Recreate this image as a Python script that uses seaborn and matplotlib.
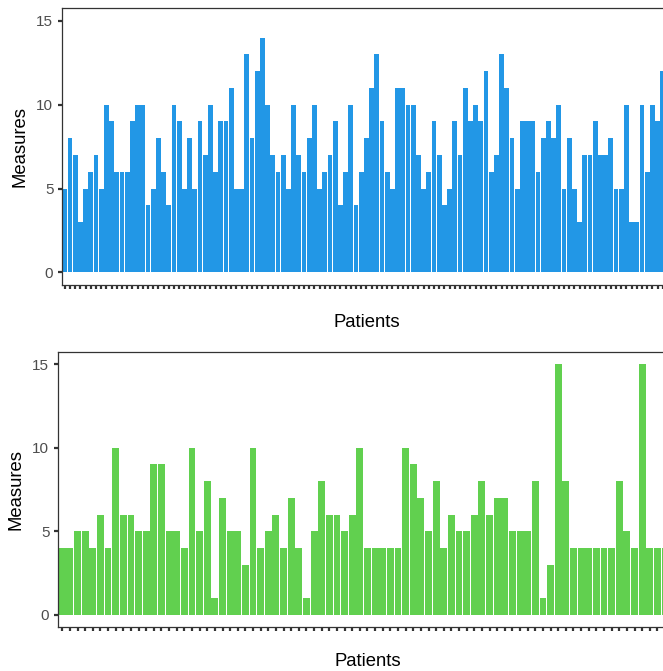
import matplotlib
matplotlib.use("Agg")
import matplotlib.pyplot as plt
import seaborn as sns
import pandas as pd

# Measures per patient, first cohort
measures_a = [5, 8, 7, 3, 5, 6, 7, 5, 10, 9, 6, 6, 6, 9, 10, 10, 4, 5, 8, 6,
              4, 10, 9, 5, 8, 5, 9, 7, 10, 6, 9, 9, 11, 5, 5, 13, 8, 12, 14, 10,
              7, 6, 7, 5, 10, 7, 6, 8, 10, 5, 6, 7, 9, 4, 6, 10, 4, 6, 8, 11,
              13, 9, 6, 5, 11, 11, 10, 10, 7, 5, 6, 9, 7, 4, 5, 9, 7, 11, 9, 10,
              9, 12, 6, 7, 13, 11, 8, 5, 9, 9, 9, 6, 8, 9, 8, 10, 5, 8, 5, 3,
              7, 7, 9, 7, 7, 8, 5, 5, 10, 3, 3, 10, 6, 10, 9, 12]

# Measures per patient, second cohort
measures_b = [4, 4, 5, 5, 4, 6, 4, 10, 6, 6, 5, 5, 9, 9, 5, 5, 4, 10, 5, 8,
              1, 7, 5, 5, 3, 10, 4, 5, 6, 4, 7, 4, 1, 5, 8, 6, 6, 5, 6, 10,
              4, 4, 4, 4, 4, 10, 9, 7, 5, 8, 4, 6, 5, 5, 6, 8, 6, 7, 7, 5,
              5, 5, 8, 1, 3, 15, 8, 4, 4, 4, 4, 4, 4, 8, 5, 4, 15, 4, 4, 4]

y_ticks = [0, 5, 10, 15]

BLUE = "#2297E6"
GREEN = "#61D04F"

sns.set_style("ticks")
plt.rcParams["font.family"] = ["Liberation Sans", "DejaVu Sans"]

fig = plt.figure(figsize=(6.63, 6.71), dpi=100)

W, H = 663.0, 671.0


def panel(left_px, top_px, unit_px, last_slot, bottom_px):
    x0 = left_px / W
    width = (last_slot + 1.2) * unit_px / W
    y0 = (H - bottom_px) / H
    height = (bottom_px - top_px) / H
    return fig.add_axes([x0, y0, width, height])


ax1 = panel(61.7, 8.3, 5.2, 116, 285.0)
ax2 = panel(57.7, 351.7, 7.63, 80, 627.3)

specs = [
    (ax1, measures_a, BLUE, 0.95, 116, 18),
    (ax2, measures_b, GREEN, 0.9, 80, 15),
]

for ax, vals, col, bw, last, xpad in specs:
    df = pd.DataFrame({"Patients": list(range(len(vals))), "Measures": vals})
    sns.barplot(data=df, x="Patients", y="Measures", color=col,
                saturation=1, width=bw, linewidth=0, ax=ax)
    ax.set_xlim(-0.6, last + 0.6)
    ax.set_ylim(-0.75, 15.75)
    ax.set_yticks(y_ticks)
    ax.set_yticklabels([str(t) for t in y_ticks])
    ax.set_xticks(range(last + 1))
    ax.tick_params(axis="x", labelbottom=False, length=3.2, width=1.6,
                   color="#333333")
    ax.tick_params(axis="y", length=3.2, width=1.6, color="#333333",
                   labelsize=11, labelcolor="#4D4D4D", pad=2.8)
    for side in ["left", "right", "top", "bottom"]:
        ax.spines[side].set_visible(True)
        ax.spines[side].set_color("#333333")
        ax.spines[side].set_linewidth(0.9)
    ax.set_xlabel("Patients", fontsize=13.3, color="black", labelpad=xpad)
    ax.set_ylabel("Measures", fontsize=13.3, color="black", labelpad=5.5)
    ax.set_facecolor("white")

fig.savefig("out.png", dpi=100, facecolor="white")
